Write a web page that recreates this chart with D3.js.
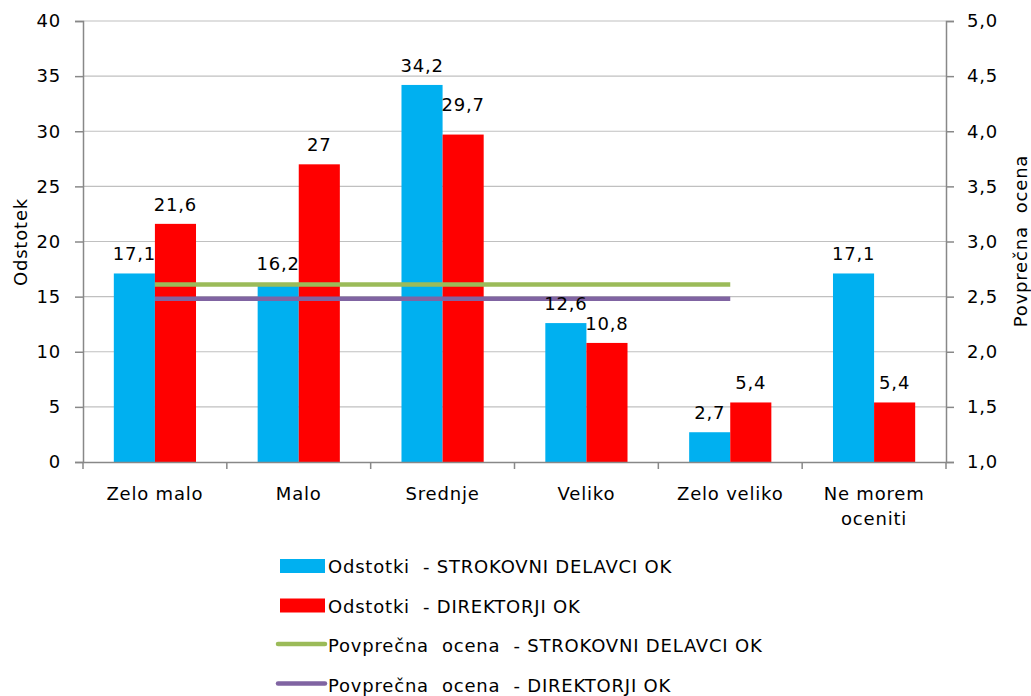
<!DOCTYPE html>
<html><head><meta charset="utf-8">
<script src="https://cdn.jsdelivr.net/npm/d3@7"></script>
<style>body{margin:0;background:#fff;} text{font-family:"DejaVu Sans",sans-serif;letter-spacing:0.8px;}</style>
</head><body>
<svg id="c" width="1031" height="696"></svg>
<script>
const categories = ["Zelo malo","Malo","Srednje","Veliko","Zelo veliko","Ne morem oceniti"];
const strokovni = [17.1,16.2,34.2,12.6,2.7,17.1];
const direktorji = [21.6,27,29.7,10.8,5.4,5.4];
const avgStrokovni = [2.61,2.61,2.61,2.61,2.61,null];
const avgDirektorji = [2.48,2.48,2.48,2.48,2.48,null];
const leftTicks = [0,5,10,15,20,25,30,35,40];
const rightTicks = [1.0,1.5,2.0,2.5,3.0,3.5,4.0,4.5,5.0];
const legendLabels = ["Odstotki  - STROKOVNI DELAVCI OK","Odstotki  - DIREKTORJI OK","Povprečna  ocena  - STROKOVNI DELAVCI OK","Povprečna  ocena  - DIREKTORJI OK"];
const colors = {blue:"#00b0f0", red:"#ff0000", green:"#9bbb59", purple:"#8064a2"};

const svg = d3.select("#c");
const L=83, R=946, T=21, B=462;
const xc = d3.scaleBand().domain(categories).range([L,R]);
const y = d3.scaleLinear().domain([0,40]).range([B,T]);
const y2 = d3.scaleLinear().domain([1,5]).range([B,T]);
const font = "DejaVu Sans";
const fs = 18;

// gridlines
svg.append("g").selectAll("line").data(leftTicks.slice(1)).join("line")
  .attr("x1",L).attr("x2",R).attr("y1",d=>y(d)).attr("y2",d=>y(d))
  .attr("stroke","#c0c0c0").attr("stroke-width",1.2);

// bars
const bw = xc.bandwidth()/3.5;
function barX(c,i){ return xc(c)+xc.bandwidth()/2 - bw + i*bw; }
svg.append("g").selectAll("rect").data(categories).join("rect")
  .attr("x",c=>barX(c,0)).attr("width",bw)
  .attr("y",(c,i)=>y(strokovni[i])).attr("height",(c,i)=>B-y(strokovni[i]))
  .attr("fill",colors.blue);
svg.append("g").selectAll("rect").data(categories).join("rect")
  .attr("x",c=>barX(c,1)).attr("width",bw)
  .attr("y",(c,i)=>y(direktorji[i])).attr("height",(c,i)=>B-y(direktorji[i]))
  .attr("fill",colors.red);

// lines
const cx = c=>xc(c)+xc.bandwidth()/2;
[[avgStrokovni,colors.green],[avgDirektorji,colors.purple]].forEach(([vals,col])=>{
  const line = d3.line().defined(d=>d.v!=null).x(d=>cx(d.c)).y(d=>y2(d.v));
  svg.append("path").datum(categories.map((c,i)=>({c,v:vals[i]})))
    .attr("d",line).attr("fill","none").attr("stroke",col).attr("stroke-width",4.5);
});

// data labels (one label was lifted manually in the original to clear the neighbouring bar)
const fmt = v => String(v).replace(".",",");
const lift = (series,i) => (series==="d" && i===2) ? 11 : 0;
svg.append("g").selectAll("text").data(categories).join("text")
  .attr("x",c=>barX(c,0)+bw/2).attr("y",(c,i)=>y(strokovni[i])-13-lift("s",i))
  .attr("text-anchor","middle").attr("font-size",fs).attr("font-family",font)
  .text((c,i)=>fmt(strokovni[i]));
svg.append("g").selectAll("text").data(categories).join("text")
  .attr("x",c=>barX(c,1)+bw/2).attr("y",(c,i)=>y(direktorji[i])-13-lift("d",i))
  .attr("text-anchor","middle").attr("font-size",fs).attr("font-family",font)
  .text((c,i)=>fmt(direktorji[i]));

// left axis
const axL = svg.append("g").attr("transform",`translate(${L},0)`)
  .call(d3.axisLeft(y).tickValues(leftTicks).tickSize(8).tickPadding(14).tickFormat(d3.format("d")));
// right axis
const axR = svg.append("g").attr("transform",`translate(${R},0)`)
  .call(d3.axisRight(y2).tickValues(rightTicks).tickSize(8).tickPadding(13).tickFormat(d=>d.toFixed(1).replace(".",",")));
// bottom axis
const axB = svg.append("g").attr("transform",`translate(0,${B})`)
  .call(d3.axisBottom(xc).tickSize(0).tickFormat(""));
[axL,axR,axB].forEach(a=>{
  a.select(".domain").attr("stroke","#888").attr("stroke-width",1.5);
  a.selectAll(".tick line").attr("stroke","#888").attr("stroke-width",1.5);
  a.selectAll("text").attr("font-size",fs).attr("font-family",font).attr("fill","#000");
});
// bottom boundary ticks
const bounds = [L].concat(categories.map(c=>xc(c)+xc.bandwidth()));
svg.append("g").selectAll("line").data(bounds).join("line")
  .attr("x1",d=>d).attr("x2",d=>d).attr("y1",B).attr("y2",B+7)
  .attr("stroke","#888").attr("stroke-width",1.5);
// category labels (wrap)
const catLines = {"Ne morem oceniti":["Ne morem","oceniti"]};
categories.forEach(c=>{
  const lines = catLines[c]||[c];
  const t = svg.append("text").attr("x",cx(c)).attr("y",B+38)
    .attr("text-anchor","middle").attr("font-size",fs).attr("font-family",font);
  lines.forEach((l,i)=>t.append("tspan").attr("x",cx(c)).attr("dy",i?25:0).text(l));
});

// axis titles
svg.append("text").attr("transform",`translate(27,242) rotate(-90)`)
  .attr("text-anchor","middle").attr("font-size",fs).attr("font-family",font).text("Odstotek");
svg.append("text").attr("transform",`translate(1027,241) rotate(-90)`)
  .attr("text-anchor","middle").attr("font-size",fs).attr("font-family",font)
  .style("white-space","pre").text("Povprečna  ocena");

// legend
const lg = svg.append("g");
legendLabels.forEach((lab,i)=>{
  const yy = 566 + i*39.5;
  if(i<2){
    lg.append("rect").attr("x",280).attr("y",yy-7).attr("width",45).attr("height",14)
      .attr("fill",i==0?colors.blue:colors.red);
  } else {
    lg.append("line").attr("x1",278).attr("x2",325).attr("y1",yy-1).attr("y2",yy-1)
      .attr("stroke",i==2?colors.green:colors.purple).attr("stroke-width",4.5).attr("stroke-linecap","round");
  }
  lg.append("text").attr("x",328).attr("y",yy+7).attr("font-size",fs).attr("font-family",font)
    .style("white-space","pre").text(lab);
});
</script>
</body></html>
